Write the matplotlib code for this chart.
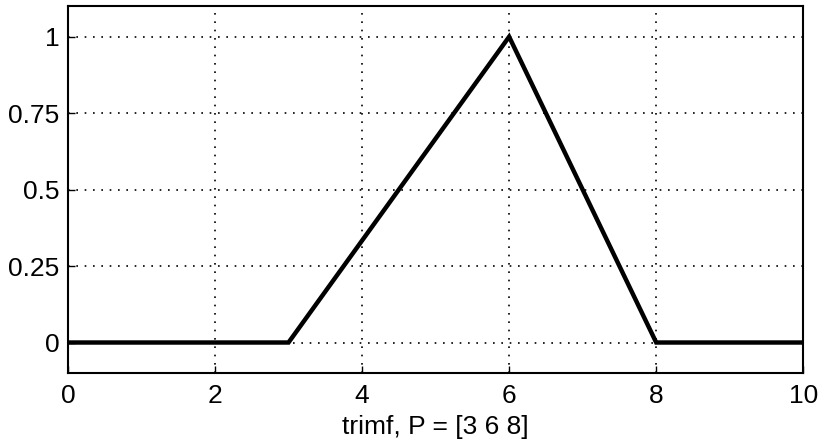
import matplotlib.pyplot as plt
import numpy as np

# trimf, P = [3 6 8]
x_pts = [0, 3, 6, 8, 10]
y_pts = [0, 0, 1, 0, 0]
xticks = [0, 2, 4, 6, 8, 10]
yticks = [0, 0.25, 0.5, 0.75, 1]
ytick_labels = ['0', '0.25', '0.5', '0.75', '1']

plt.rcParams['font.family'] = ['Liberation Sans', 'DejaVu Sans']

fig = plt.figure(figsize=(8.18, 4.41), dpi=100)
ax = fig.add_axes([0.083, 0.154, 0.899, 0.832])

ax.plot(x_pts, y_pts, color='black', linewidth=3.2, solid_joinstyle='miter')

ax.set_xlim(0, 10)
ax.set_ylim(-0.1, 1.1)
ax.set_xticks(xticks)
ax.set_yticks(yticks)
ax.set_yticklabels(ytick_labels)
ax.tick_params(direction='in', length=5, width=1, labelsize=19, pad=6)
ax.tick_params(axis='x', pad=8)
ax.grid(True, color='black', linestyle=(0, (1, 4)), linewidth=1.2)
for s in ax.spines.values():
    s.set_linewidth(1.5)

ax.set_xlabel('trimf, P = [3 6 8]', fontsize=19, labelpad=5)

fig.savefig('out.png', dpi=100)
